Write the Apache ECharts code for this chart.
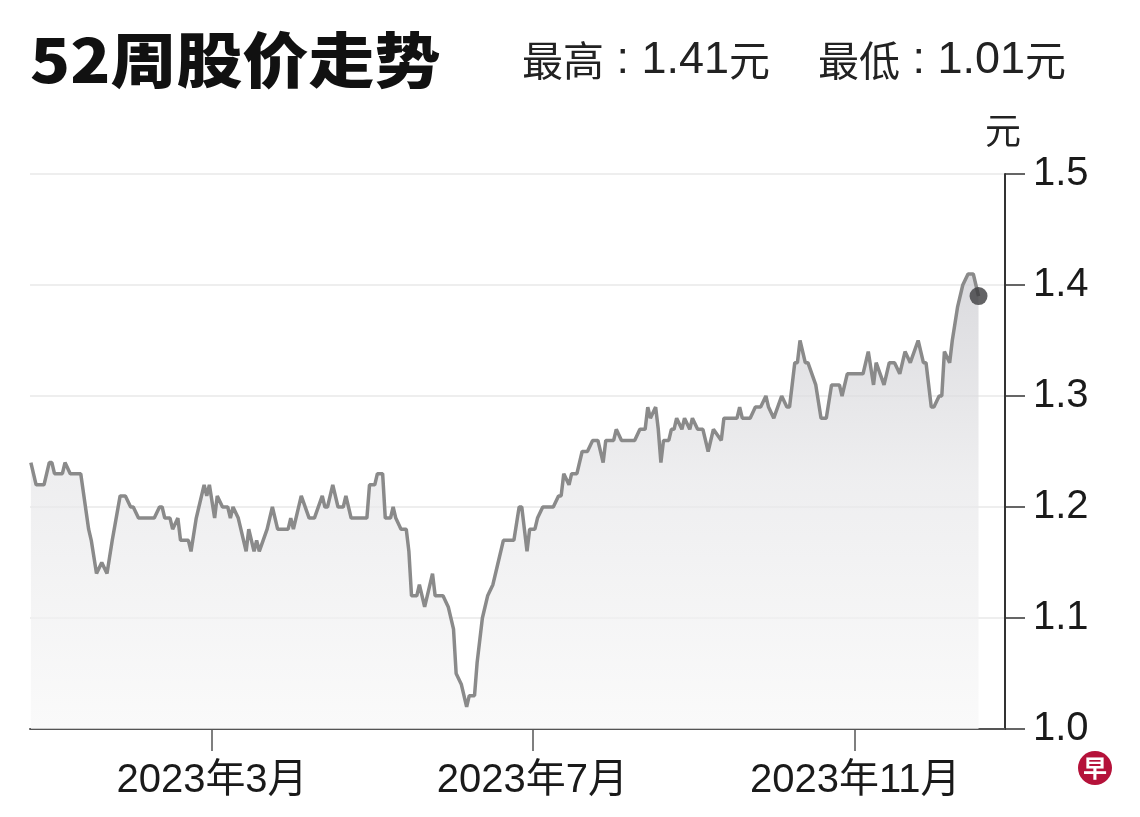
<!DOCTYPE html>
<html>
<head>
<meta charset="utf-8">
<script src="https://cdn.jsdelivr.net/npm/echarts@6/dist/echarts.min.js"></script>
<style>
html,body{margin:0;padding:0;background:#fff;}
#chart{width:1140px;height:817px;}
</style>
</head>
<body>
<div id="chart"></div>
<script>
const titleText = '52周股价走势';
const highLabel = '最高';
const highValue = '1.41';
const lowLabel = '最低';
const lowValue = '1.01';
const unitText = '元';
const xTickDates = ['2023-03-01', '2023-07-01', '2023-11-01'];
const yTicks = [1.0, 1.1, 1.2, 1.3, 1.4, 1.5];

const dates = [
'2022-12-22','2022-12-24','2022-12-27','2022-12-29','2022-12-30','2022-12-31','2023-01-03','2023-01-04','2023-01-06','2023-01-10',
'2023-01-13','2023-01-14','2023-01-16','2023-01-18','2023-01-20','2023-01-22','2023-01-25','2023-01-27','2023-01-29','2023-01-30',
'2023-02-01','2023-02-07','2023-02-09','2023-02-10','2023-02-11','2023-02-13','2023-02-14','2023-02-16','2023-02-17','2023-02-20',
'2023-02-21','2023-02-23','2023-02-24','2023-02-26','2023-02-27','2023-02-28','2023-03-02','2023-03-03','2023-03-05','2023-03-07',
'2023-03-08','2023-03-09','2023-03-11','2023-03-14','2023-03-15','2023-03-17','2023-03-18','2023-03-19','2023-03-22','2023-03-24',
'2023-03-26','2023-03-30','2023-03-31','2023-04-01','2023-04-04','2023-04-07','2023-04-09','2023-04-12','2023-04-13','2023-04-14',
'2023-04-16','2023-04-18','2023-04-20','2023-04-21','2023-04-23','2023-04-29','2023-04-30','2023-05-02','2023-05-03','2023-05-05',
'2023-05-06','2023-05-08','2023-05-09','2023-05-10','2023-05-12','2023-05-14','2023-05-15','2023-05-16','2023-05-18','2023-05-19',
'2023-05-21','2023-05-22','2023-05-24','2023-05-25','2023-05-28','2023-05-30','2023-06-01','2023-06-02','2023-06-04','2023-06-06',
'2023-06-07','2023-06-09','2023-06-10','2023-06-12','2023-06-14','2023-06-16','2023-06-18','2023-06-20','2023-06-24','2023-06-26',
'2023-06-27','2023-06-29','2023-06-30','2023-07-02','2023-07-03','2023-07-05','2023-07-09','2023-07-11','2023-07-12','2023-07-13',
'2023-07-15','2023-07-16','2023-07-18','2023-07-20','2023-07-22','2023-07-24','2023-07-26','2023-07-28','2023-07-29','2023-08-01',
'2023-08-02','2023-08-04','2023-08-09','2023-08-11','2023-08-13','2023-08-14','2023-08-15','2023-08-17','2023-08-18','2023-08-19',
'2023-08-20','2023-08-22','2023-08-23','2023-08-24','2023-08-25','2023-08-27','2023-08-28','2023-08-30','2023-08-31','2023-09-02',
'2023-09-04','2023-09-06','2023-09-08','2023-09-11','2023-09-12','2023-09-17','2023-09-18','2023-09-19','2023-09-22','2023-09-24',
'2023-09-26','2023-09-28','2023-09-29','2023-10-01','2023-10-04','2023-10-06','2023-10-07','2023-10-09','2023-10-10','2023-10-11',
'2023-10-13','2023-10-14','2023-10-17','2023-10-19','2023-10-21','2023-10-23','2023-10-26','2023-10-27','2023-10-29','2023-11-04',
'2023-11-06','2023-11-08','2023-11-09','2023-11-12','2023-11-14','2023-11-16','2023-11-18','2023-11-20','2023-11-22','2023-11-25',
'2023-11-27','2023-11-28','2023-11-30','2023-12-01','2023-12-03','2023-12-04','2023-12-05','2023-12-07','2023-12-08','2023-12-10',
'2023-12-12','2023-12-14','2023-12-16','2023-12-17','2023-12-18'
];

const prices = [
1.24,1.22,1.22,1.24,1.24,1.23,1.23,1.24,1.23,1.23,
1.18,1.17,1.14,1.15,1.14,1.17,1.21,1.21,1.20,1.20,
1.19,1.19,1.20,1.20,1.19,1.19,1.18,1.19,1.17,1.17,
1.16,1.19,1.20,1.22,1.21,1.22,1.19,1.21,1.20,1.20,
1.19,1.20,1.19,1.16,1.18,1.16,1.17,1.16,1.18,1.20,
1.18,1.18,1.19,1.18,1.21,1.19,1.19,1.21,1.20,1.20,
1.22,1.20,1.20,1.21,1.19,1.19,1.22,1.22,1.23,1.23,
1.19,1.19,1.20,1.19,1.18,1.18,1.16,1.12,1.12,1.13,
1.11,1.12,1.14,1.12,1.12,1.11,1.09,1.05,1.04,1.02,
1.03,1.03,1.06,1.10,1.12,1.13,1.15,1.17,1.17,1.20,
1.20,1.16,1.18,1.18,1.19,1.20,1.20,1.21,1.21,1.23,
1.22,1.23,1.23,1.25,1.25,1.26,1.26,1.24,1.26,1.26,
1.27,1.26,1.26,1.27,1.27,1.29,1.28,1.29,1.27,1.24,
1.26,1.26,1.27,1.27,1.28,1.27,1.28,1.27,1.28,1.27,
1.27,1.25,1.27,1.26,1.28,1.28,1.29,1.28,1.28,1.29,
1.29,1.30,1.29,1.28,1.30,1.29,1.29,1.33,1.33,1.35,
1.33,1.33,1.31,1.28,1.28,1.31,1.31,1.30,1.32,1.32,
1.34,1.31,1.33,1.31,1.33,1.33,1.32,1.34,1.33,1.35,
1.33,1.33,1.29,1.29,1.30,1.30,1.34,1.33,1.35,1.38,
1.40,1.41,1.41,1.40,1.39
];

function parseLocal(s) {
  const p = s.split('-').map(Number);
  return new Date(p[0], p[1] - 1, p[2]).getTime();
}

const seriesData = dates.map((d, i) => [parseLocal(d), prices[i]]);
const lastPoint = seriesData[seriesData.length - 1];
const tickValues = xTickDates.map(parseLocal);

const latinFont = "'Liberation Sans', Arial, 'Noto Sans CJK SC', sans-serif";
const cjkFont = "'Noto Sans CJK SC', 'Liberation Sans', sans-serif";

const subRich = {
  c: {fontFamily: cjkFont, fontSize: 41, color: '#222222'},
  n: {fontFamily: latinFont, fontSize: 45, color: '#222222'}
};

const chart = echarts.init(document.getElementById('chart'), null, {renderer: 'canvas'});

const option = {
  backgroundColor: '#ffffff',
  animation: false,
  grid: {left: 30, right: 135, top: 174, bottom: 88, containLabel: false},
  xAxis: {
    type: 'value',
    min: new Date(2022, 11, 21, 16).getTime(),
    max: new Date(2023, 11, 28, 2).getTime(),
    scale: true,
    axisLine: {show: true, onZero: false, lineStyle: {color: '#555', width: 2}},
    axisTick: {show: true, customValues: tickValues, length: 22, lineStyle: {color: '#555', width: 1.5}},
    axisLabel: {
      customValues: tickValues,
      margin: 32,
      color: '#1a1a1a',
      fontSize: 40,
      fontFamily: latinFont,
      formatter: function (v) {
        const d = new Date(v);
        return d.getFullYear() + '年' + (d.getMonth() + 1) + '月';
      }
    },
    splitLine: {show: false}
  },
  yAxis: {
    type: 'value',
    position: 'right',
    min: yTicks[0],
    max: yTicks[yTicks.length - 1],
    interval: 0.1,
    axisLine: {show: true, onZero: false, lineStyle: {color: '#333', width: 2}},
    axisTick: {show: true, inside: false, length: 20, lineStyle: {color: '#333', width: 1.5}},
    axisLabel: {
      margin: 28,
      color: '#1a1a1a',
      fontSize: 40,
      fontFamily: latinFont,
      formatter: function (v) { return v.toFixed(1); }
    },
    splitLine: {show: true, lineStyle: {color: '#e9e9e9', width: 1.5}}
  },
  series: [
    {
      type: 'line',
      data: seriesData,
      showSymbol: false,
      smooth: false,
      lineStyle: {color: '#8a8a8a', width: 3.5},
      areaStyle: {
        color: new echarts.graphic.LinearGradient(0, 0, 0, 1, [
          {offset: 0, color: '#cbcbd0'},
          {offset: 0.45, color: '#e7e7e9'},
          {offset: 1, color: '#f8f8f8'}
        ])
      },
      z: 2
    },
    {
      type: 'scatter',
      data: [lastPoint],
      symbol: 'circle',
      symbolSize: 18,
      itemStyle: {color: '#3c3c3e'},
      z: 5
    }
  ],
  graphic: [
    {
      type: 'text',
      left: 30,
      top: 30,
      style: {
        text: titleText,
        font: "900 60px " + cjkFont,
        fill: '#111111'
      },
      scaleX: 1.1
    },
    {
      type: 'text',
      left: 522,
      top: 38,
      style: {
        text: '{c|' + highLabel + '}{n|\u00a0: ' + highValue + '}{c|' + unitText + '}',
        rich: subRich,
        fill: '#222222'
      }
    },
    {
      type: 'text',
      left: 818,
      top: 38,
      style: {
        text: '{c|' + lowLabel + '}{n|\u00a0: ' + lowValue + '}{c|' + unitText + '}',
        rich: subRich,
        fill: '#222222'
      }
    },
    {
      type: 'text',
      left: 985,
      top: 112,
      style: {
        text: unitText,
        font: "400 36px " + cjkFont,
        fill: '#222222'
      }
    },
    {
      type: 'circle',
      shape: {cx: 1095, cy: 768, r: 17},
      style: {fill: '#b5123a'}
    },
    {
      type: 'text',
      x: 1095,
      y: 768,
      style: {
        text: '早',
        font: "700 24px " + cjkFont,
        fill: '#ffffff',
        align: 'center',
        verticalAlign: 'middle'
      }
    }
  ]
};

chart.setOption(option);
</script>
</body>
</html>
